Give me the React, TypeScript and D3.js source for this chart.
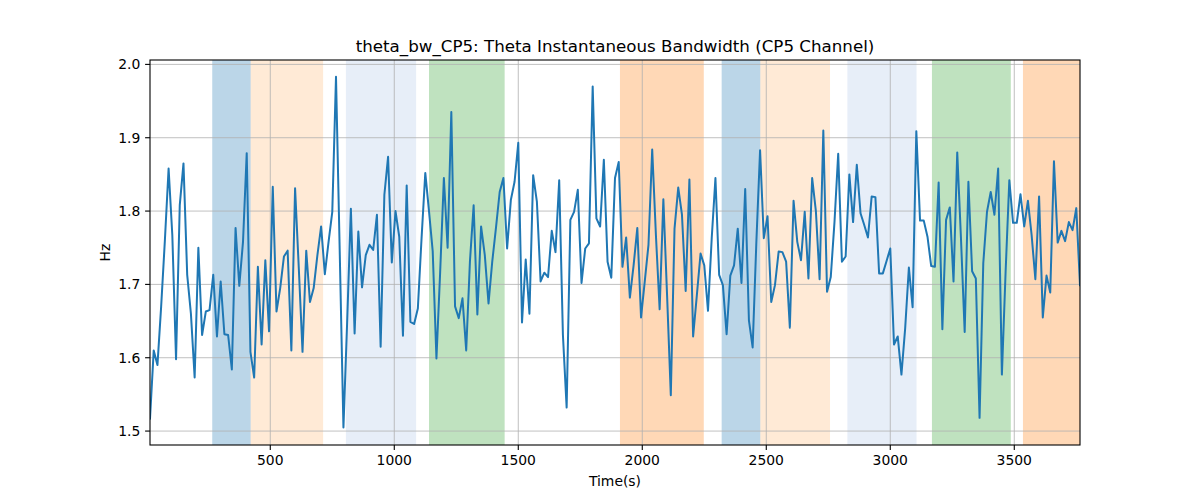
import React from "react";
import * as d3 from "d3";

const T0 = 15;
const DT = 15;
const values: number[] = [
  1.517, 1.610, 1.590, 1.67, 1.76, 1.858, 1.767, 1.598, 1.808, 1.865,
  1.713, 1.66, 1.573, 1.750, 1.631, 1.663, 1.665, 1.713, 1.629, 1.704,
  1.632, 1.631, 1.584, 1.777, 1.698, 1.758, 1.879, 1.608, 1.573, 1.724,
  1.618,
  1.733, 1.636, 1.833, 1.663, 1.695, 1.738, 1.746, 1.610, 1.831, 1.722,
  1.608, 1.746, 1.676, 1.695, 1.74, 1.779, 1.714, 1.758, 1.799, 1.983,
  1.745, 1.505, 1.649, 1.803, 1.633, 1.772, 1.696, 1.740, 1.754, 1.747,
  1.795,
  1.615, 1.822, 1.874, 1.730, 1.800, 1.765, 1.630, 1.835, 1.649, 1.646,
  1.667, 1.763, 1.852, 1.80, 1.745, 1.599, 1.717, 1.845, 1.750, 1.935,
  1.670, 1.654, 1.681, 1.610, 1.731, 1.808, 1.659, 1.779, 1.74, 1.674,
  1.731,
  1.777, 1.826, 1.845, 1.749, 1.815, 1.840, 1.893, 1.648, 1.734, 1.660,
  1.849, 1.813, 1.704, 1.716, 1.710, 1.773, 1.744, 1.842, 1.631, 1.532,
  1.788, 1.799, 1.829, 1.702, 1.749, 1.756, 1.970, 1.790, 1.779, 1.870,
  1.731,
  1.709, 1.845, 1.867, 1.724, 1.764, 1.682, 1.726, 1.777, 1.655, 1.704,
  1.754, 1.884, 1.767, 1.666, 1.816, 1.685, 1.549, 1.776, 1.832, 1.795,
  1.691, 1.843, 1.629, 1.685, 1.742, 1.726, 1.664, 1.763, 1.845, 1.713,
  1.699,
  1.632, 1.712, 1.726, 1.776, 1.702, 1.830, 1.651, 1.614, 1.758, 1.883,
  1.763, 1.793, 1.676, 1.699, 1.745, 1.744, 1.731, 1.641, 1.814, 1.758,
  1.733, 1.799, 1.708, 1.845, 1.80, 1.707, 1.910, 1.690, 1.710, 1.785,
  1.878,
  1.731, 1.738, 1.850, 1.785, 1.863, 1.797, 1.781, 1.764, 1.820, 1.819,
  1.715, 1.715, 1.732, 1.749, 1.618, 1.629, 1.577, 1.640, 1.723, 1.669,
  1.909, 1.787, 1.787, 1.765, 1.725, 1.724, 1.839, 1.639, 1.788, 1.805,
  1.704,
  1.880, 1.763, 1.635, 1.840, 1.718, 1.708, 1.518, 1.729, 1.799, 1.826,
  1.795, 1.858, 1.577, 1.717, 1.842, 1.784, 1.784, 1.823, 1.779, 1.814,
  1.767, 1.707, 1.820, 1.655, 1.712, 1.689, 1.868, 1.757, 1.773, 1.759,
  1.785, 1.774, 1.804, 1.699,
];

const spanStarts = [266, 421, 805, 1140, 1910, 2320, 2476, 2827, 3168, 3535];
const spanEnds = [421, 713, 1088, 1445, 2248, 2476, 2757, 3106, 3486, 3765];
const spanColors = ["#1f77b4", "#ffbb78", "#aec7e8", "#2ca02c", "#ff7f0e", "#1f77b4", "#ffbb78", "#aec7e8", "#2ca02c", "#ff7f0e"];

const xTicks = [500, 1000, 1500, 2000, 2500, 3000, 3500];
const yTicks = [1.5, 1.6, 1.7, 1.8, 1.9, 2.0];

const title = "theta_bw_CP5: Theta Instantaneous Bandwidth (CP5 Channel)";
const xLabel = "Time(s)";
const yLabel = "Hz";

export default function App() {
  const W = 1200, H = 500;
  const L = 150, R = 1080, Tp = 60, B = 445;
  const times = values.map((_, i) => T0 + i * DT);
  const x = d3.scaleLinear().domain([times[0], times[times.length - 1]]).range([L, R]);
  const y = d3.scaleLinear().domain([1.481, 2.006]).range([B, Tp]);
  const line = d3.line<number>().x((_, i) => x(times[i])).y((d) => y(d));
  const font = "DejaVu Sans, sans-serif";
  return (
    <svg width={W} height={H} style={{ position: "absolute", left: 0, top: 0, background: "#fff" }}>
      <rect x={0} y={0} width={W} height={H} fill="#fff" />
      <defs>
        <clipPath id="plotclip">
          <rect x={L} y={Tp} width={R - L} height={B - Tp} />
        </clipPath>
      </defs>
      <g clipPath="url(#plotclip)">
        {spanStarts.map((s, i) => (
          <rect key={i} x={x(s)} y={Tp} width={x(spanEnds[i]) - x(s)} height={B - Tp} fill={spanColors[i]} fillOpacity={0.3} />
        ))}
        {xTicks.map((t) => (
          <line key={"gx" + t} x1={x(t)} x2={x(t)} y1={Tp} y2={B} stroke="#b0b0b0" strokeWidth={0.8} />
        ))}
        {yTicks.map((t) => (
          <line key={"gy" + t} x1={L} x2={R} y1={y(t)} y2={y(t)} stroke="#b0b0b0" strokeWidth={0.8} />
        ))}
        <path d={line(values) || ""} fill="none" stroke="#1f77b4" strokeWidth={2} strokeLinejoin="round" strokeLinecap="square" />
      </g>
      <rect x={L} y={Tp} width={R - L} height={B - Tp} fill="none" stroke="#000" strokeWidth={1.1} />
      {xTicks.map((t) => (
        <g key={"tx" + t}>
          <line x1={x(t)} x2={x(t)} y1={B} y2={B + 4.9} stroke="#000" strokeWidth={1.1} />
          <text x={x(t)} y={B + 20} textAnchor="middle" fontFamily={font} fontSize={13.9} fill="#000">{t}</text>
        </g>
      ))}
      {yTicks.map((t) => (
        <g key={"ty" + t}>
          <line x1={L - 4.9} x2={L} y1={y(t)} y2={y(t)} stroke="#000" strokeWidth={1.1} />
          <text x={L - 9.7} y={y(t)} dy="0.35em" textAnchor="end" fontFamily={font} fontSize={13.9} fill="#000">{t.toFixed(1)}</text>
        </g>
      ))}
      <text x={(L + R) / 2} y={486} textAnchor="middle" fontFamily={font} fontSize={13.9} fill="#000">{xLabel}</text>
      <text transform={`translate(110, ${(Tp + B) / 2}) rotate(-90)`} textAnchor="middle" fontFamily={font} fontSize={13.9} fill="#000">{yLabel}</text>
      <text x={(L + R) / 2} y={52} textAnchor="middle" fontFamily={font} fontSize={16.7} fill="#000">{title}</text>
    </svg>
  );
}
